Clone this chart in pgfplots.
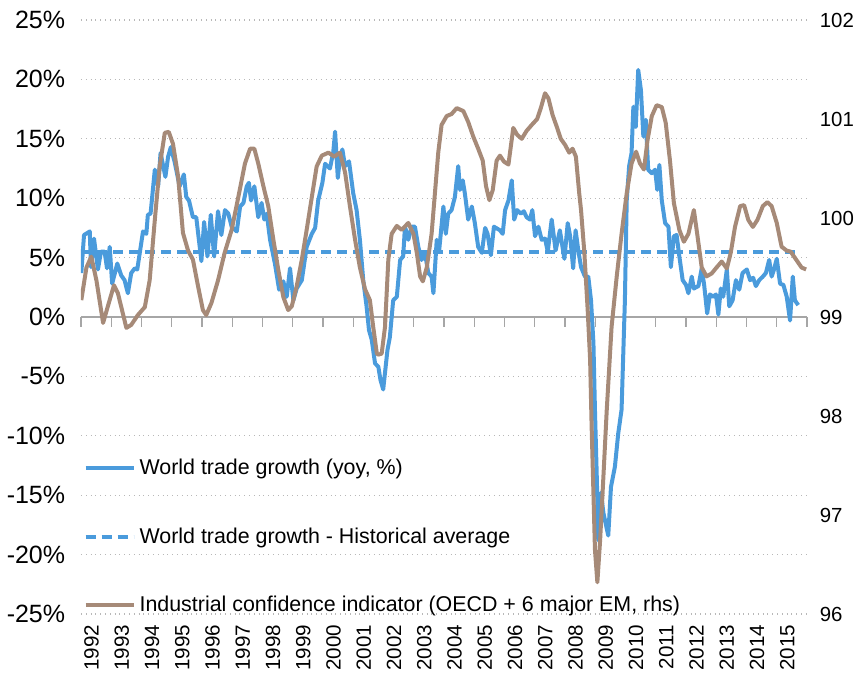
\documentclass[border=0pt]{standalone}
\usepackage{fontspec}
\setmainfont{Liberation Sans}
\usepackage{pgfplots}
\usepackage{pgfplotstable}
\pgfplotsset{compat=1.18}
\definecolor{wtblue}{HTML}{4A9BDC}
\definecolor{icbrown}{HTML}{A68A78}
\definecolor{gridgray}{HTML}{B8B8B8}
\definecolor{axisgray}{HTML}{A6A6A6}

\pgfplotstableread{
x y
1992.01 3.7
1992.10 6.9
1992.29 7.2
1992.33 4.2
1992.43 6.6
1992.56 4.0
1992.66 5.5
1992.78 5.5
1992.86 4.1
1992.95 5.9
1993.03 2.8
1993.20 4.5
1993.33 3.5
1993.44 3.1
1993.55 2.0
1993.66 3.7
1993.78 4.1
1993.86 4.0
1994.05 7.2
1994.16 7.0
1994.21 8.6
1994.30 8.7
1994.44 12.4
1994.55 11.0
1994.63 13.8
1994.79 11.8
1994.88 13.5
1994.97 14.3
1995.10 13.0
1995.26 11.0
1995.40 12.0
1995.48 10.1
1995.57 9.8
1995.70 8.4
1995.81 8.4
1995.98 4.7
1996.07 8.0
1996.18 5.1
1996.29 8.6
1996.40 5.1
1996.53 8.9
1996.64 6.9
1996.76 9.0
1996.87 8.7
1996.98 7.6
1997.15 7.2
1997.26 9.3
1997.37 9.6
1997.48 11.0
1997.55 11.3
1997.62 9.8
1997.73 11.0
1997.86 8.4
1997.97 9.6
1998.06 8.2
1998.14 8.7
1998.25 6.5
1998.41 4.5
1998.55 2.3
1998.69 3.0
1998.80 1.7
1998.91 4.1
1999.02 1.4
1999.13 2.4
1999.30 3.1
1999.46 5.9
1999.63 7.0
1999.74 7.5
1999.84 9.8
1999.98 11.3
2000.07 12.9
2000.23 12.5
2000.34 13.9
2000.40 15.6
2000.49 11.7
2000.56 13.4
2000.64 14.1
2000.73 12.7
2000.86 13.1
2001.00 10.4
2001.11 9.0
2001.22 6.5
2001.33 3.1
2001.44 0.9
2001.52 -1.1
2001.61 -1.9
2001.72 -3.9
2001.83 -4.2
2001.90 -5.3
2001.99 -6.1
2002.13 -2.8
2002.21 -1.7
2002.32 1.4
2002.44 1.7
2002.55 4.8
2002.65 5.1
2002.71 7.6
2002.82 6.5
2002.93 7.6
2003.04 7.6
2003.15 5.9
2003.26 4.8
2003.37 5.4
2003.48 3.7
2003.59 3.4
2003.65 2.0
2003.76 6.5
2003.84 5.6
2003.98 9.3
2004.06 7.0
2004.14 8.7
2004.25 9.0
2004.36 10.1
2004.47 12.7
2004.53 10.7
2004.62 11.5
2004.69 10.4
2004.80 8.2
2004.92 9.3
2005.02 7.9
2005.13 5.9
2005.25 5.4
2005.36 7.5
2005.44 7.0
2005.55 5.2
2005.65 7.6
2005.85 7.3
2005.94 7.0
2006.02 9.0
2006.13 9.8
2006.24 11.5
2006.32 8.2
2006.42 9.0
2006.54 8.7
2006.64 8.9
2006.73 8.4
2006.84 8.2
2006.92 9.0
2007.01 6.8
2007.12 7.6
2007.23 6.5
2007.34 6.6
2007.43 5.5
2007.56 8.2
2007.69 5.6
2007.83 7.3
2007.98 4.9
2008.09 7.9
2008.17 6.8
2008.27 4.1
2008.35 7.3
2008.44 5.6
2008.53 4.2
2008.66 3.4
2008.77 3.4
2008.86 1.4
2008.94 -2.2
2008.99 -7.8
2009.05 -13.4
2009.10 -18.8
2009.19 -14.8
2009.27 -16.5
2009.43 -18.4
2009.52 -14.3
2009.65 -12.6
2009.76 -9.8
2009.87 -7.8
2009.98 1.4
2010.04 9.8
2010.12 12.7
2010.20 13.8
2010.26 17.7
2010.34 16.0
2010.42 20.8
2010.51 19.1
2010.59 15.2
2010.67 16.6
2010.75 12.4
2010.87 12.1
2010.98 12.4
2011.05 10.7
2011.12 12.8
2011.20 9.8
2011.31 7.9
2011.42 7.6
2011.50 4.2
2011.60 6.8
2011.69 6.9
2011.78 5.1
2011.89 3.1
2012.00 2.7
2012.08 2.0
2012.19 3.4
2012.26 2.4
2012.41 2.6
2012.52 4.1
2012.60 2.7
2012.70 0.3
2012.79 1.9
2012.90 1.7
2012.99 1.9
2013.07 0.2
2013.15 2.4
2013.23 1.7
2013.35 4.0
2013.43 0.9
2013.54 1.4
2013.65 3.1
2013.76 2.3
2013.87 3.7
2014.01 4.0
2014.12 3.1
2014.22 3.3
2014.31 2.6
2014.42 3.1
2014.54 3.4
2014.64 3.7
2014.75 4.8
2014.83 3.4
2014.91 4.0
2015.00 4.9
2015.11 2.8
2015.22 2.7
2015.33 1.7
2015.44 -0.3
2015.53 3.4
2015.60 1.4
2015.71 1.0
}\tradegrowth

\pgfplotstableread{
x y
1992.01 5.5
2015.71 5.5
}\tradeavg

\pgfplotstableread{
x y
1992.01 99.17
1992.18 99.50
1992.34 99.61
1992.51 99.37
1992.73 98.94
1992.89 99.11
1993.09 99.32
1993.22 99.24
1993.50 98.89
1993.66 98.92
1993.88 99.02
1994.11 99.10
1994.27 99.37
1994.44 99.98
1994.60 100.52
1994.77 100.86
1994.90 100.87
1995.04 100.75
1995.21 100.42
1995.37 99.85
1995.54 99.67
1995.70 99.58
1995.87 99.31
1996.03 99.07
1996.14 99.02
1996.31 99.14
1996.53 99.37
1996.75 99.65
1996.98 99.88
1997.20 100.21
1997.42 100.55
1997.59 100.70
1997.73 100.70
1997.86 100.55
1998.03 100.32
1998.19 100.12
1998.36 99.78
1998.52 99.48
1998.69 99.20
1998.85 99.07
1998.97 99.11
1999.13 99.31
1999.30 99.58
1999.46 99.88
1999.63 100.21
1999.79 100.52
1999.96 100.63
2000.18 100.66
2000.37 100.62
2000.56 100.66
2000.73 100.46
2000.89 100.12
2001.06 99.78
2001.22 99.50
2001.39 99.28
2001.55 99.17
2001.66 98.90
2001.78 98.63
2001.83 98.62
2001.94 98.63
2002.05 98.90
2002.16 99.58
2002.27 99.84
2002.44 99.92
2002.60 99.88
2002.82 99.95
2002.99 99.84
2003.10 99.65
2003.21 99.41
2003.30 99.36
2003.43 99.50
2003.59 99.84
2003.70 100.25
2003.81 100.66
2003.92 100.94
2004.09 101.03
2004.25 101.05
2004.42 101.11
2004.64 101.08
2004.80 100.97
2004.97 100.82
2005.13 100.70
2005.28 100.58
2005.39 100.32
2005.50 100.18
2005.61 100.28
2005.74 100.58
2005.85 100.63
2005.98 100.57
2006.13 100.54
2006.29 100.91
2006.42 100.84
2006.57 100.80
2006.73 100.88
2006.90 100.94
2007.08 101.00
2007.20 101.11
2007.34 101.26
2007.45 101.21
2007.59 101.04
2007.73 100.92
2007.86 100.80
2008.00 100.74
2008.14 100.66
2008.25 100.70
2008.36 100.62
2008.47 100.25
2008.53 100.08
2008.64 99.65
2008.75 99.07
2008.83 98.57
2008.88 97.90
2008.94 97.22
2008.99 96.65
2009.07 96.32
2009.16 96.74
2009.27 97.39
2009.38 98.06
2009.54 98.90
2009.71 99.41
2009.87 99.84
2010.04 100.25
2010.20 100.55
2010.35 100.67
2010.48 100.55
2010.61 100.49
2010.73 100.79
2010.87 101.03
2011.03 101.14
2011.20 101.12
2011.33 100.96
2011.47 100.58
2011.60 100.15
2011.78 99.88
2011.93 99.76
2012.08 99.84
2012.26 100.08
2012.37 99.84
2012.52 99.50
2012.68 99.41
2012.85 99.44
2013.01 99.50
2013.18 99.56
2013.35 99.49
2013.48 99.65
2013.62 99.91
2013.79 100.12
2013.92 100.13
2014.06 99.98
2014.21 99.91
2014.36 99.98
2014.54 100.12
2014.69 100.16
2014.83 100.12
2015.00 99.95
2015.16 99.71
2015.33 99.67
2015.46 99.66
2015.64 99.58
2015.82 99.50
2015.97 99.48
}\confidence

\begin{document}
\begin{tikzpicture}
\useasboundingbox (-40.5pt,-29.5pt) rectangle (391pt,307pt);
\pgfplotsset{every axis/.append style={scale only axis, width=363pt, height=297pt, xmin=1992, xmax=2016}}
% zero line with year ticks
\begin{axis}[
  ymin=-25, ymax=25,
  axis x line=middle, axis y line=none,
  axis line style={-, axisgray, line width=0.7pt},
  xtick={1992,1993,...,2016},
  xticklabels={},
  major tick length=5pt,
  tick align=outside,
  xtick style={axisgray, line width=0.7pt},
]
\end{axis}
% left axis: world trade growth
\begin{axis}[
  ymin=-25, ymax=25,
  ytick={-25,-20,-15,-10,-5,5,10,15,20,25},
  yticklabels={-25\%,-20\%,-15\%,-10\%,-5\%,5\%,10\%,15\%,20\%,25\%},
  extra y ticks={0},
  extra y tick labels={0\%},
  extra y tick style={grid=none},
  axis x line*=bottom, axis y line*=left,
  axis line style={draw=none},
  major tick length=0pt,
  ymajorgrids,
  grid style={gridgray, dotted, line width=0.6pt},
  xtick={1992.35,1993.35,1994.35,1995.35,1996.35,1997.35,1998.35,1999.35,2000.35,2001.35,2002.35,2003.35,2004.35,2005.35,2006.35,2007.35,2008.35,2009.35,2010.35,2011.35,2012.35,2013.35,2014.35,2015.35},
  xticklabels={1992,1993,1994,1995,1996,1997,1998,1999,2000,2001,2002,2003,2004,2005,2006,2007,2008,2009,2010,2011,2012,2013,2014,2015},
  xticklabel style={rotate=90, anchor=east, font=\fontsize{10.3}{12}\selectfont, xshift=-2pt},
  yticklabel style={font=\fontsize{12.5}{14}\selectfont, xshift=-4.4pt},
]
\addplot[wtblue, line width=2pt, line join=round] table[x=x, y=y] {\tradegrowth};
\addplot[wtblue, line width=2pt, dash pattern=on 5pt off 3pt] table[x=x, y=y] {\tradeavg};
\end{axis}
% right axis: industrial confidence
\begin{axis}[
  ymin=96, ymax=102,
  ytick={96,97,98,99,100,101,102},
  yticklabels={96,97,98,99,100,101,102},
  axis y line*=right, axis x line=none,
  axis line style={draw=none},
  major tick length=0pt,
  yticklabel style={font=\fontsize{10.2}{12}\selectfont, xshift=2.9pt},
  legend cell align=left,
  legend style={at={(rel axis cs:0.003,0.268)}, anchor=north west, draw=none, fill=none,
    font=\fontsize{10.7}{12}\selectfont, row sep=21pt, inner sep=0pt},
  legend image code/.code={\draw[#1] (0pt,0pt) -- (24pt,0pt);},
]
\addlegendimage{wtblue, line width=2pt}
\addlegendentry{World trade growth (yoy, \%)}
\addlegendimage{wtblue, line width=2pt, dash pattern=on 5pt off 3pt}
\addlegendentry{World trade growth - Historical average}
\addplot[icbrown, line width=2pt, line join=round] table[x=x, y=y] {\confidence};
\addlegendentry{Industrial confidence indicator (OECD + 6 major EM, rhs)}
\end{axis}
\end{tikzpicture}
\end{document}
